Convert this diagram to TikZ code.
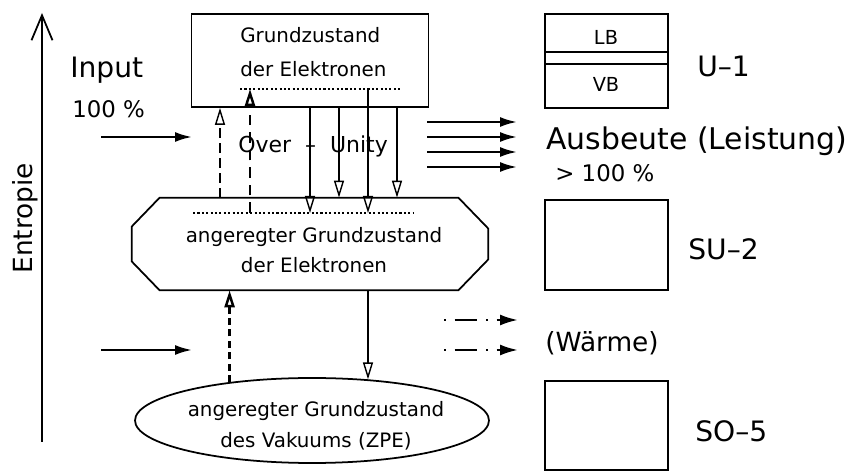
\documentclass[tikz,border=0pt]{standalone}
\usepackage{fontspec}
\setmainfont{DejaVu Sans}
\usetikzlibrary{arrows.meta,shapes.geometric}

\tikzset{
  state/.style={draw,line width=1pt,inner sep=0pt},
  trans/.style={-{Triangle[open,length=0.34cm,width=0.2cm]},line width=0.8pt},
  yield/.style={-{Latex[length=0.34cm,width=0.2cm]},line width=1.3pt},
  heat/.style={-{Latex[length=0.36cm,width=0.22cm]},line width=1.3pt,dash pattern=on 1pt off 5pt on 13pt off 5pt},
  level/.style={line width=0.8pt,dash pattern=on 1.2pt off 1.3pt},
  lbl/.style={font=\fontsize{11.3}{13}\selectfont,anchor=base,inner sep=0pt},
  big/.style={font=\fontsize{16}{18}\selectfont,anchor=base west,inner sep=0pt},
  mid/.style={font=\fontsize{13}{15}\selectfont,anchor=base west,inner sep=0pt}
}

\begin{document}
\begin{tikzpicture}
\useasboundingbox (0,0) rectangle (16.94,9.44);
% Entropie-Achse
\draw[-{Straight Barb[length=0.5cm,width=0.42cm]},line width=1pt] (0.84,0.60) -- (0.84,9.18);
\node[rotate=90,anchor=base west,inner sep=0pt,font=\fontsize{15}{17}\selectfont] (entropie) at (0.66,3.96) {Entropie};
% Zustaende
\node[state,minimum width=4.74cm,minimum height=1.86cm] (gz) at (6.20,8.23) {};
\node[inner sep=0pt,minimum width=7.12cm,minimum height=1.84cm] (agz) at (6.20,4.56) {};
\draw[line width=1pt] ([xshift=0.56cm]agz.north west) -- ([xshift=-0.60cm]agz.north east)
  -- ([yshift=-0.62cm]agz.north east) -- ([yshift=0.62cm]agz.south east)
  -- ([xshift=-0.60cm]agz.south east) -- ([xshift=0.56cm]agz.south west)
  -- ([yshift=0.58cm]agz.south west) -- ([yshift=-0.58cm]agz.north west) -- cycle;
\node[state,ellipse,minimum width=7.08cm,minimum height=1.70cm] (zpe) at (6.24,1.03) {};
\coordinate (gzdot) at (6.20,7.66);
\coordinate (agzdot) at (6.20,5.18);
\draw[level] ([xshift=-1.40cm]gzdot) -- ([xshift=1.80cm]gzdot);
\draw[level] ([xshift=-2.34cm]agzdot) -- ([xshift=2.06cm]agzdot);
\node[lbl,anchor=base west] (gz1) at (4.80,8.58) {Grundzustand};
\node[lbl,anchor=base west] (gz2) at (4.80,7.90) {der Elektronen};
\node[lbl] (agz1) at (6.28,4.58) {angeregter Grundzustand};
\node[lbl] (agz2) at (6.28,3.98) {der Elektronen};
\node[lbl] (zpe1) at (6.32,1.10) {angeregter Grundzustand};
\node[lbl] (zpe2) at (6.32,0.48) {des Vakuums (ZPE)};
% Uebergaenge
\draw[trans,dash pattern=on 5.5pt off 3pt] ([xshift=-1.80cm]agz.north) -- ([xshift=-1.80cm]gz.south);
\draw[trans,line width=1.4pt,dash pattern=on 6pt off 4pt] ([xshift=-1.20cm]agzdot) -- ([xshift=-1.20cm]gzdot);
\draw[trans] (gz.south) -- (agzdot);
\draw[trans] ([xshift=0.58cm]gz.south) -- ([xshift=0.58cm]agz.north);
\draw[trans] ([xshift=1.16cm]gzdot) -- ([xshift=1.16cm]agzdot);
\draw[trans] ([xshift=1.74cm]gz.south) -- ([xshift=1.74cm]agz.north);
\node[font=\fontsize{12.5}{14}\selectfont,anchor=base west,inner sep=0pt] (ou) at (4.76,6.38) {Over~~–~~Unity};
\draw[trans,line width=1.4pt,dash pattern=on 4pt off 2.5pt] (zpe.155) -- (zpe.155 |- agz.south);
\coordinate (ab) at ([xshift=1.16cm]agz.south);
\draw[trans] (ab) -- (ab |- zpe.36);
% Input
\node[big] (input) at (1.40,7.88) {Input};
\node[mid] (inp) at (1.44,7.08) {100 \%};
\draw[yield] (2.02,6.70) -- (3.84,6.70);
\draw[yield] (2.02,2.44) -- (3.84,2.44);
% Ausbeute
\draw[yield] (8.54,7.00) -- (10.34,7.00);
\draw[yield] (8.54,6.70) -- (10.34,6.70);
\draw[yield] (8.54,6.40) -- (10.34,6.40);
\draw[yield] (8.54,6.10) -- (10.34,6.10);
\node[big,font=\fontsize{17}{19}\selectfont] (ausb) at (10.92,6.44) {Ausbeute (Leistung)};
\node[mid] (ausbp) at (11.10,5.80) {> 100 \%};
\draw[heat] (8.88,3.04) -- (10.36,3.04);
\draw[heat] (8.88,2.44) -- (10.36,2.44);
\node[big,font=\fontsize{15}{17}\selectfont] (waerme) at (10.90,2.40) {(Wärme)};
% Baender
\node[state,minimum width=2.46cm,minimum height=1.88cm] (ub) at (12.13,8.22) {};
\draw[line width=1pt] ([yshift=0.18cm]ub.west) -- ([yshift=0.18cm]ub.east);
\draw[line width=1pt] ([yshift=-0.06cm]ub.west) -- ([yshift=-0.06cm]ub.east);
\node[font=\fontsize{11}{13}\selectfont,anchor=base,inner sep=0pt] (lb) at (12.12,8.54) {LB};
\node[font=\fontsize{11}{13}\selectfont,anchor=base,inner sep=0pt] (vb) at (12.12,7.60) {VB};
\node[big] (u1) at (13.94,7.90) {U–1};
\node[state,minimum width=2.46cm,minimum height=1.80cm] (su) at (12.13,4.54) {};
\node[big] (su2) at (13.76,4.24) {SU–2};
\node[state,minimum width=2.46cm,minimum height=1.78cm] (so) at (12.13,0.93) {};
\node[big] (so5) at (13.90,0.60) {SO–5};
\end{tikzpicture}
\end{document}
